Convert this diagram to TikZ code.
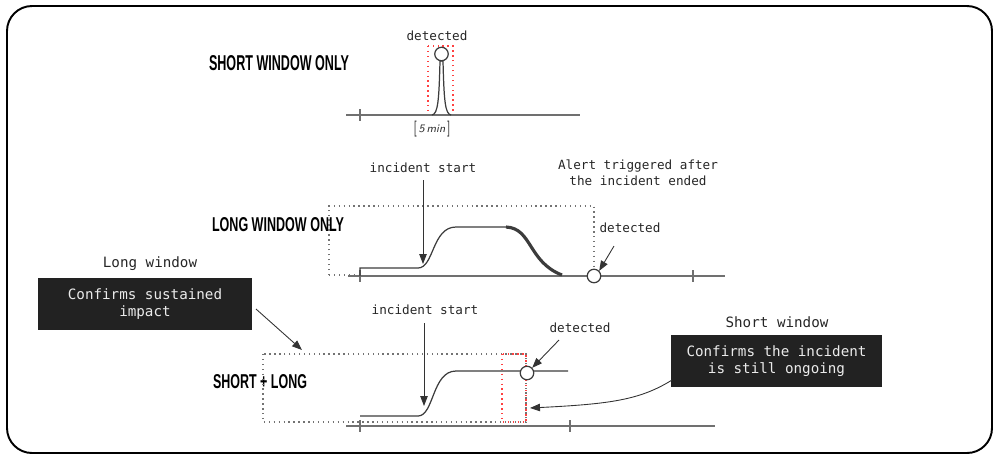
\documentclass[tikz,border=0pt]{standalone}
\usepackage{fontspec}
\usepackage{graphicx}
\setmainfont{Liberation Sans}
\setmonofont{DejaVu Sans Mono}
\usetikzlibrary{positioning,arrows.meta}

\definecolor{boxgray}{HTML}{222222}
\definecolor{axisgray}{HTML}{707070}
\definecolor{curvegray}{HTML}{3C3C3C}

\newcommand{\headline}[3]{\resizebox{#1}{#2}{\bfseries #3}}

\begin{document}
\begin{tikzpicture}[
  x=0.02cm, y=-0.02cm,
  lbl/.style={font=\ttfamily\fontsize{7.2}{9}\selectfont, text=black!85, inner sep=0pt, align=center},
  note/.style={font=\ttfamily\fontsize{8.1}{9.6}\selectfont, text=black!85, inner sep=0pt},
  darkbox/.style={fill=boxgray, text=white!92!black, font=\ttfamily\fontsize{8.1}{9.6}\selectfont,
    align=center, inner sep=0pt, minimum height=1.04cm},
  axisline/.style={axisgray, line width=0.8pt},
  curve/.style={curvegray, line width=0.7pt},
  pointer/.style={black!80, line width=0.5pt, -{Triangle[length=2mm,width=1.5mm]}},
  longwin/.style={black!55, dotted, line width=0.8pt},
  shortwin/.style={red!75, dotted, line width=0.8pt},
  hit/.style={circle, draw=curvegray, fill=white, line width=0.7pt, minimum size=0.27cm, inner sep=0pt},
]
  \useasboundingbox (0,0) rectangle (1000,461);
  \draw[line width=1.1pt, rounded corners=0.5cm] (7,6) rectangle (992,453);

  % --- Short window only ---
  \node (hshort) at (279,63) {\headline{2.8cm}{0.3cm}{SHORT WINDOW ONLY}};
  \draw[shortwin] (428,46) rectangle (453,115);
  \draw[axisline] (346,115) -- (580,115);
  \draw[axisline] (360,109) -- (360,121);
  \draw[curve] (432,115) .. controls (438,114) and (439,100) .. (440,61)
    -- (443,61) .. controls (444,100) and (445,114) .. (451,115);
  \node[hit] (spike) at (441.5,54) {};
  \node[lbl] (detA) at (437,36) {detected};
  \node[font=\sffamily\itshape\fontsize{6.5}{8}\selectfont, text=black!80, inner sep=0pt] (span) at (432,129)
    {\raisebox{-0.15ex}{\scalebox{0.8}[1.5]{\normalfont[}}\,5\,min\,\raisebox{-0.15ex}{\scalebox{0.8}[1.5]{\normalfont]}}};

  % --- Long window only ---
  \node (hlong) at (278,225) {\headline{2.64cm}{0.28cm}{LONG WINDOW ONLY}};
  \draw[longwin] (329,275) -- (329,206) -- (594,206) -- (594,268);
  \draw[longwin] (329,275) -- (360,275);
  \draw[axisline] (348,276) -- (725,276);
  \draw[axisline] (360,270) -- (360,282);
  \draw[axisline] (693,270) -- (693,282);
  \draw[curve] (360,276) -- (360,268) -- (418,268) .. controls (434,268) and (432,227) .. (456,227) -- (506,227);
  \draw[curvegray, line width=1.8pt] (506,227) .. controls (532,228) and (528,262) .. (562,275);
  \node[hit] (late) at (594,276) {};
  \node[lbl] (incA) at (423,168) {incident start};
  \coordinate (incAtop) at (423,180);
  \coordinate (incAtip) at (423,264);
  \draw[pointer] (incAtop) -- (incAtip);
  \node[lbl] (alert) at (638,173) {Alert triggered after\\the incident ended};
  \node[lbl] (detB) at (630,228) {detected};
  \coordinate (detBtail) at (614,246);
  \draw[pointer] (detBtail) -- (late.north east);

  % --- Short + long ---
  \node (hboth) at (260,382) {\headline{1.88cm}{0.28cm}{SHORT + LONG}};
  \draw[longwin] (263,354) rectangle (526,422);
  \draw[shortwin] (502,354) rectangle (526,422);
  \draw[axisline] (346,426) -- (715,426);
  \draw[axisline] (360,420) -- (360,432);
  \draw[axisline] (570,420) -- (570,432);
  \draw[curve] (360,416) -- (418,416) .. controls (434,416) and (432,371) .. (456,371) -- (568,371);
  \node[hit] (early) at (527,373) {};
  \node[lbl] (incB) at (425,310) {incident start};
  \coordinate (incBtop) at (424,323);
  \coordinate (incBtip) at (424,406);
  \draw[pointer] (incBtop) -- (incBtip);
  \node[lbl] (detC) at (580,328) {detected};
  \coordinate (detCtail) at (559,340);
  \draw[pointer] (detCtail) -- (early.north east);

  % --- Notes ---
  \node[note] (lname) at (150,264) {Long window};
  \node[darkbox, minimum width=4.28cm] (lbox) at (145,304) {Confirms sustained\\impact};
  \coordinate (lfrom) at (256,309);
  \coordinate (lto) at (302,350);
  \draw[pointer] (lfrom) -- (lto);

  \node[note] (sname) at (777,322) {Short window};
  \node[darkbox, minimum width=4.22cm] (sbox) at (776.5,361) {Confirms the incident\\is still ongoing};
  \coordinate (sfrom) at (672,380);
  \coordinate (sto) at (530,408);
  \draw[pointer] (sfrom) .. controls (640,400) and (610,404) .. (sto);
\end{tikzpicture}
\end{document}
